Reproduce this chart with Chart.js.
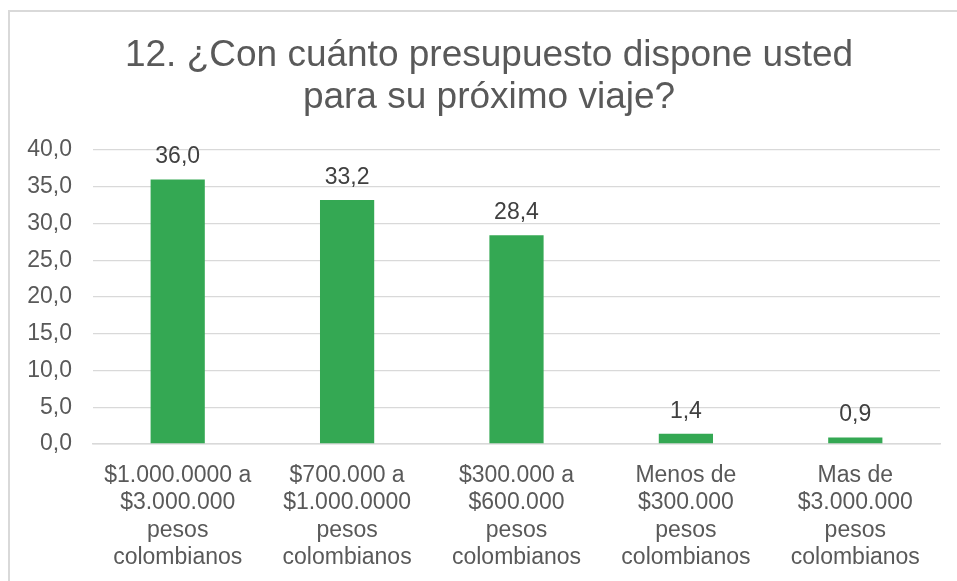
<!DOCTYPE html>
<html>
<head>
<meta charset="utf-8">
<script src="https://cdn.jsdelivr.net/npm/chart.js@4.4.1/dist/chart.umd.min.js"></script>
<style>
  html, body { margin: 0; padding: 0; background: #ffffff; overflow: hidden; }
  #frame { position: absolute; left: 8px; top: 10px; width: 1000px; height: 700px; border-left: 2px solid #d9d9d9; border-top: 2px solid #d9d9d9; }
  #wrap { position: absolute; left: 0; top: 0; width: 957px; height: 581px; }
</style>
</head>
<body>
<div id="frame"></div>
<div id="wrap"><canvas id="c" width="957" height="581"></canvas></div>
<script>
const titleLines = ['12. ¿Con cuánto presupuesto dispone usted', 'para su próximo viaje?'];
const categories = [
  ['$1.000.0000 a', '$3.000.000', 'pesos', 'colombianos'],
  ['$700.000 a', '$1.000.0000', 'pesos', 'colombianos'],
  ['$300.000 a', '$600.000', 'pesos', 'colombianos'],
  ['Menos de', '$300.000', 'pesos', 'colombianos'],
  ['Mas de', '$3.000.000', 'pesos', 'colombianos']
];
const values = [36.0, 33.2, 28.4, 1.4, 0.9];
const yMin = 0, yMax = 40, yStep = 5;

const FONT = "'Liberation Sans', Arial, sans-serif";
const fmt = v => v.toFixed(1).replace('.', ',');

const dataLabels = {
  id: 'dataLabels',
  afterDatasetsDraw(chart) {
    const ctx = chart.ctx;
    const meta = chart.getDatasetMeta(0);
    ctx.save();
    ctx.font = '23px ' + FONT;
    ctx.fillStyle = '#404040';
    ctx.textAlign = 'center';
    ctx.textBaseline = 'alphabetic';
    meta.data.forEach((bar, i) => {
      ctx.fillText(fmt(values[i]), bar.x, bar.y - 16);
    });
    ctx.restore();
  }
};

const titlePlugin = {
  id: 'customTitle',
  afterDraw(chart) {
    const ctx = chart.ctx;
    ctx.save();
    ctx.font = '37px ' + FONT;
    ctx.fillStyle = '#595959';
    ctx.textAlign = 'center';
    ctx.textBaseline = 'alphabetic';
    titleLines.forEach((line, i) => {
      ctx.fillText(line, 489, 66 + i * 42);
    });
    ctx.restore();
  }
};

new Chart(document.getElementById('c'), {
  type: 'bar',
  data: {
    labels: categories,
    datasets: [{
      data: values,
      backgroundColor: '#34a853',
      borderWidth: 0,
      categoryPercentage: 1,
      barPercentage: 0.32
    }]
  },
  plugins: [dataLabels, titlePlugin],
  options: {
    responsive: false,
    animation: false,
    layout: { padding: { top: 150, right: 17, bottom: 0, left: 0 } },
    plugins: {
      legend: { display: false },
      tooltip: { enabled: false },
      title: { display: false }
    },
    scales: {
      y: {
        min: yMin, max: yMax,
        ticks: {
          stepSize: yStep,
          callback: v => fmt(v),
          color: '#595959',
          font: { family: FONT, size: 23 },
          padding: 21
        },
        grid: { color: '#d9d9d9', lineWidth: 1.3, drawTicks: false },
        border: { display: false },
        afterFit(s) { s.width = 93; }
      },
      x: {
        ticks: {
          color: '#595959',
          font: { family: FONT, size: 23, lineHeight: 1.19 },
          maxRotation: 0, minRotation: 0, autoSkip: false,
          padding: 18
        },
        grid: { display: false, drawTicks: false },
        border: { display: true, color: '#d9d9d9', width: 1.5 },
        afterFit(s) { s.height = 137; }
      }
    }
  }
});
</script>
</body>
</html>
